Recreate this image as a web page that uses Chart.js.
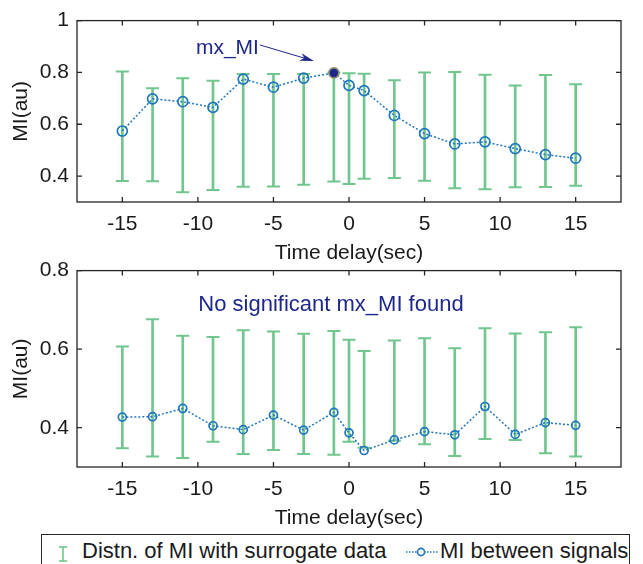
<!DOCTYPE html>
<html><head><meta charset="utf-8">
<script src="https://cdn.jsdelivr.net/npm/chart.js@4.4.0/dist/chart.umd.min.js"></script>
<style>
html,body{margin:0;padding:0;background:#fff;width:643px;height:564px;overflow:hidden;position:relative;font-family:'Liberation Sans',Arial,sans-serif;color:#1a1a1a}
#c1{position:absolute;left:0;top:0}
#c2{position:absolute;left:0;top:250px}
#legend{position:absolute;left:41px;top:534px;width:589px;height:40px;border:1.3px solid #262626;box-sizing:border-box;background:#fff}
#legend span{position:absolute;font-size:22px;line-height:26px;top:3px;white-space:nowrap}
#legend svg{position:absolute}
</style></head><body>
<canvas id="c1" width="643" height="270"></canvas>
<canvas id="c2" width="643" height="290"></canvas>
<div id="legend">
  <svg style="left:14px;top:11px" width="14" height="16"><line x1="7" y1="1" x2="7" y2="15" stroke="rgb(112,198,142)" stroke-width="1.6"/><line x1="3" y1="1" x2="11" y2="1" stroke="rgb(112,198,142)" stroke-width="1.6"/><line x1="3" y1="15" x2="11" y2="15" stroke="rgb(112,198,142)" stroke-width="1.6"/></svg>
  <span style="left:40px">Distn. of MI with surrogate data</span>
  <svg style="left:363px;top:8px" width="34" height="18"><line x1="1" y1="9" x2="33" y2="9" stroke="rgb(30,118,190)" stroke-width="1.4" stroke-dasharray="1.5,1.5"/><circle cx="16" cy="9" r="3.6" fill="#fff" stroke="rgb(30,118,190)" stroke-width="1.6"/></svg>
  <span style="left:398px">MI between signals</span>
</div>
<script>
// ---- data ----
const delays = [-15,-13,-11,-9,-7,-5,-3,-1,0,1,3,5,7,9,11,13,15];

const miTop   = [0.574,0.698,0.687,0.665,0.774,0.743,0.778,0.798,0.750,0.730,0.634,0.564,0.524,0.532,0.506,0.483,0.469];
const lowTop  = [0.381,0.380,0.338,0.346,0.359,0.360,0.367,0.379,0.369,0.390,0.393,0.382,0.353,0.349,0.357,0.358,0.363];
const highTop = [0.804,0.739,0.778,0.768,0.794,0.794,0.794,0.800,0.797,0.795,0.770,0.800,0.802,0.791,0.750,0.790,0.754];

const miBot   = [0.427,0.428,0.449,0.405,0.395,0.432,0.394,0.439,0.387,0.342,0.369,0.390,0.382,0.454,0.383,0.413,0.406];
const lowBot  = [0.348,0.327,0.323,0.364,0.333,0.343,0.333,0.331,0.364,0.349,0.367,0.358,0.328,0.371,0.369,0.335,0.327];
const highBot = [0.607,0.676,0.634,0.631,0.648,0.645,0.639,0.646,0.624,0.595,0.622,0.628,0.602,0.653,0.640,0.643,0.656];

const xTicks = [-15,-10,-5,0,5,10,15];
const yTicksTop = [0.4,0.6,0.8,1];
const yTicksBot = [0.4,0.6,0.8];

const xLabel = 'Time delay(sec)';
const yLabel = 'MI(au)';
const seriesNames = ['Distn. of MI with surrogate data','MI between signals'];
const annTop = 'mx_MI';
const annBot = 'No significant mx_MI found';

// ---- styles ----
const GREEN = 'rgb(112,198,142)';
const BLUE = 'rgb(30,118,190)';
const NAVY = 'rgb(30,40,140)';
const AXIS = '#262626';
const FONT = "'Liberation Sans', Arial, sans-serif";
Chart.defaults.font.family = FONT;
Chart.defaults.color = '#1a1a1a';

const matlabAxes = {
  id: 'matlabAxes',
  afterDatasetsDraw(chart) {
    const {ctx, chartArea: a, scales: {x, y}} = chart;
    ctx.save();
    ctx.strokeStyle = AXIS; ctx.lineWidth = 1.3;
    ctx.beginPath();
    x.ticks.forEach(t => { const p = x.getPixelForValue(t.value);
      ctx.moveTo(p, a.bottom); ctx.lineTo(p, a.bottom - 5);
      ctx.moveTo(p, a.top); ctx.lineTo(p, a.top + 5); });
    y.ticks.forEach(t => { const p = y.getPixelForValue(t.value);
      ctx.moveTo(a.left, p); ctx.lineTo(a.left + 5, p);
      ctx.moveTo(a.right, p); ctx.lineTo(a.right - 5, p); });
    ctx.stroke();
    ctx.strokeRect(a.left, a.top, a.right - a.left, a.bottom - a.top);
    ctx.restore();
  }
};

function makeChart(id, mi, lows, highs, yTicks, yMin, yMax, cfg) {
  const maxIdx = cfg.markMax ? mi.indexOf(Math.max(...mi)) : -1;
  const annot = {
    id: 'annot',
    afterDatasetsDraw(chart) {
      const ctx = chart.ctx, a = chart.chartArea;
      ctx.save();
      ctx.fillStyle = NAVY; ctx.strokeStyle = NAVY;
      ctx.font = (cfg.markMax ? '21px ' : '22px ') + FONT;
      ctx.textBaseline = 'middle';
      if (cfg.markMax) {
        const el = chart.getDatasetMeta(3).data[maxIdx];
        const px = el.x, py = el.y;
        ctx.textAlign = 'right';
        ctx.fillText(annTop, px - 75, py - 25);
        const x0 = px - 74, y0 = py - 28, x1 = px - 20, y1 = py - 12;
        const ang = Math.atan2(y1 - y0, x1 - x0);
        ctx.lineWidth = 1;
        ctx.beginPath(); ctx.moveTo(x0, y0); ctx.lineTo(x1 - 10 * Math.cos(ang), y1 - 10 * Math.sin(ang)); ctx.stroke();
        ctx.beginPath();
        ctx.moveTo(x1, y1);
        ctx.lineTo(x1 - 14 * Math.cos(ang) + 4 * Math.sin(ang), y1 - 14 * Math.sin(ang) - 4 * Math.cos(ang));
        ctx.lineTo(x1 - 10 * Math.cos(ang), y1 - 10 * Math.sin(ang));
        ctx.lineTo(x1 - 14 * Math.cos(ang) - 4 * Math.sin(ang), y1 - 14 * Math.sin(ang) + 4 * Math.cos(ang));
        ctx.closePath(); ctx.fill();
      } else {
        ctx.textAlign = 'center';
        ctx.fillText(annBot, a.left + 254, a.top + 34);
      }
      ctx.restore();
    }
  };
  return new Chart(document.getElementById(id), {
    type: 'bar',
    data: {
      datasets: [
        { type: 'bar', label: seriesNames[0], data: delays.map((d, i) => ({x: d, y: [lows[i], highs[i]]})),
          backgroundColor: GREEN, borderWidth: 0, barThickness: 2, grouped: false, order: 3 },
        { type: 'line', label: 'low', data: delays.map((d, i) => ({x: d, y: lows[i]})), showLine: false,
          pointStyle: 'line', pointRadius: 6.5, pointBorderWidth: 2, pointBorderColor: GREEN, borderColor: GREEN, order: 2 },
        { type: 'line', label: 'high', data: delays.map((d, i) => ({x: d, y: highs[i]})), showLine: false,
          pointStyle: 'line', pointRadius: 6.5, pointBorderWidth: 2, pointBorderColor: GREEN, borderColor: GREEN, order: 2 },
        { type: 'line', label: seriesNames[1], data: delays.map((d, i) => ({x: d, y: mi[i]})),
          borderColor: BLUE, borderWidth: 1.5, borderDash: [2, 2], tension: 0,
          pointStyle: 'circle', pointRadius: cfg.r, pointBorderWidth: 1.7,
          pointBackgroundColor: c => c.dataIndex === maxIdx ? NAVY : 'rgba(0,0,0,0)',
          pointBorderColor: c => c.dataIndex === maxIdx ? '#8a8a70' : BLUE,
          order: 0 }
      ]
    },
    options: {
      responsive: false, animation: false,
      layout: { padding: { left: 0, top: cfg.top, right: 22, bottom: 0 } },
      plugins: { legend: { display: false }, tooltip: { enabled: false } },
      scales: {
        x: {
          type: 'linear', min: -18, max: 18, offset: false,
          grid: { display: false, drawTicks: false }, border: { display: false },
          afterBuildTicks: s => { s.ticks = xTicks.map(v => ({value: v})); },
          afterFit: s => { s.height = cfg.xh; },
          ticks: { font: { size: 21 }, padding: 10, color: '#1a1a1a', callback: v => String(v) },
          title: { display: true, text: xLabel, font: { size: 21 }, color: '#1a1a1a', padding: { top: 0, bottom: cfg.tpad } }
        },
        y: {
          type: 'linear', min: yMin, max: yMax,
          grid: { display: false, drawTicks: false }, border: { display: false },
          afterBuildTicks: s => { s.ticks = yTicks.map(v => ({value: v})); },
          afterFit: s => { s.width = 77; },
          ticks: { font: { size: 21 }, padding: 8, color: '#1a1a1a', callback: v => String(v) },
          title: { display: true, text: yLabel, font: { size: 21 }, color: '#1a1a1a', padding: { top: 9, bottom: 0 } }
        }
      }
    },
    plugins: [matlabAxes, annot]
  });
}

makeChart('c1', miTop, lowTop, highTop, yTicksTop, 0.3, 1.0, { markMax: true, r: 5, top: 14, xh: 68, tpad: 4 });
makeChart('c2', miBot, lowBot, highBot, yTicksBot, 0.3, 0.8, { markMax: false, r: 4, top: 18, xh: 73, tpad: 9 });
</script>
</body></html>
